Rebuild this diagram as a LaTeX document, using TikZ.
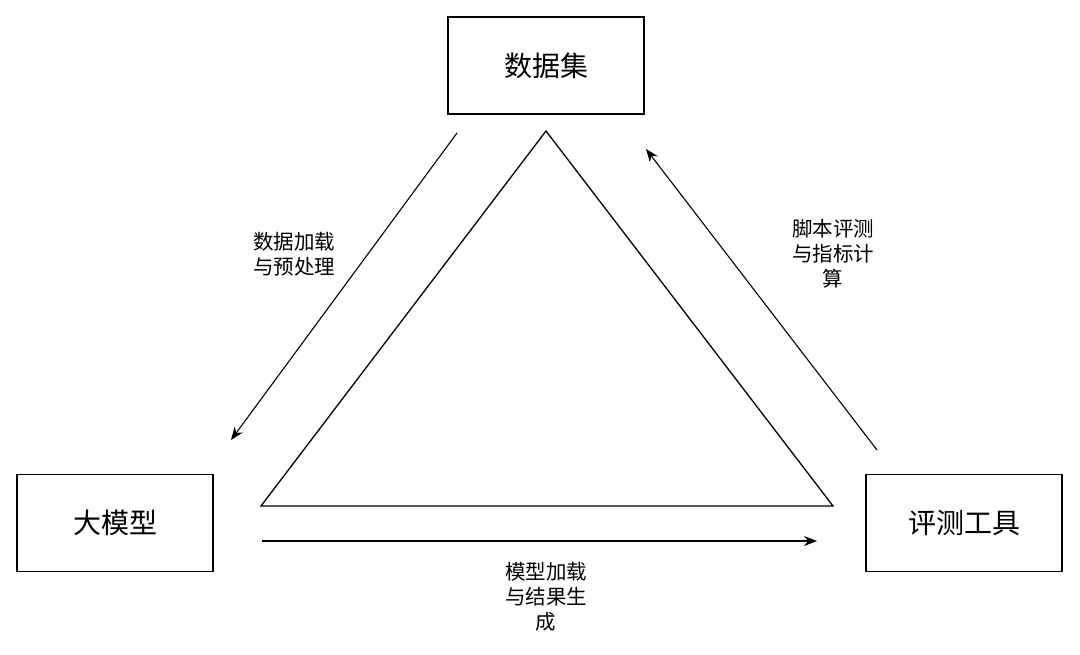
\documentclass[tikz,border=0pt]{standalone}
\usepackage{fontspec}
\setmainfont{Noto Sans CJK SC}
\usetikzlibrary{arrows.meta}
\begin{document}
\begin{tikzpicture}[x=1pt,y=-1pt,
  box/.style={draw,line width=1.3pt,minimum width=196pt,minimum height=97pt,font=\fontsize{28}{32}\selectfont},
  lab/.style={align=center,font=\fontsize{20.5}{25}\selectfont},
  arr/.style={line width=1.1pt,-{Stealth[length=13pt,width=10pt]}}]
\useasboundingbox (0,0) rectangle (1080,655);
\fill[white] (0,0) rectangle (1080,655);
\node[box] (ds) at (546,65.5) {数据集};
\node[box] (llm) at (115,523) {大模型};
\node[box] (ev) at (964,523) {评测工具};
\coordinate (t1) at (546,131);
\coordinate (t2) at (261,506);
\coordinate (t3) at (833,506);
\draw[line width=1.3pt] (t1) -- (t2) -- (t3) -- cycle;
\coordinate (a1) at (457,133); \coordinate (a2) at (231,440);
\coordinate (b1) at (262,541); \coordinate (b2) at (817,541);
\coordinate (c1) at (877,450); \coordinate (c2) at (646,149);
\draw[arr] (a1) -- (a2);
\draw[arr] (b1) -- (b2);
\draw[arr] (c1) -- (c2);
\node[lab] (la) at (294,254) {数据加载\\与预处理};
\node[lab] (lc) at (833,254) {脚本评测\\与指标计\\算};
\node[lab] (lb) at (546,597) {模型加载\\与结果生\\成};
\end{tikzpicture}
\end{document}
